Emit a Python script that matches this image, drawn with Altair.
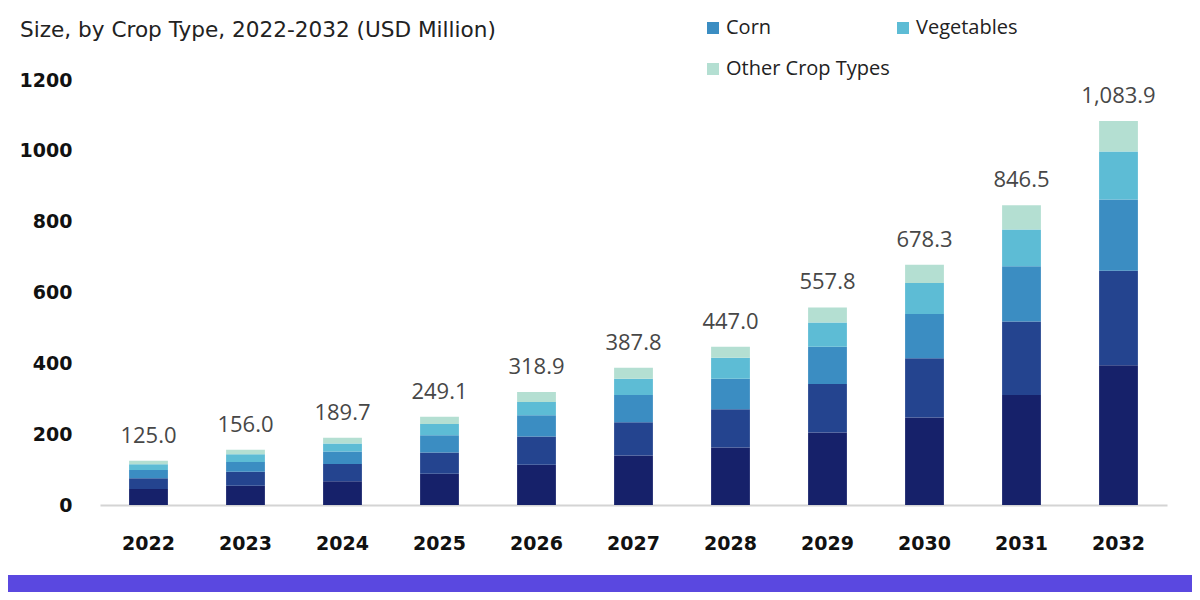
import altair as alt
import pandas as pd

years = ["2022", "2023", "2024", "2025", "2026", "2027", "2028", "2029", "2030", "2031", "2032"]
series = ["Soybean", "Wheat", "Corn", "Vegetables", "Other Crop Types"]
colors = ["#16216a", "#24448f", "#3b8dc2", "#5dbcd5", "#b4dfd2"]

soybean = [45.0, 54.6, 67.3, 88.5, 114.0, 139.7, 162.5, 204.8, 246.9, 310.3, 394.7]
wheat = [30.6, 39.2, 48.2, 59.8, 79.7, 94.1, 108.0, 136.7, 167.5, 207.5, 266.8]
corn = [23.1, 27.8, 35.6, 48.7, 59.5, 77.0, 85.8, 105.4, 124.7, 156.1, 201.1]
vegetables = [16.3, 22.0, 22.2, 31.5, 37.3, 45.6, 59.6, 68.6, 88.0, 104.1, 135.7]
other = [10.0, 12.4, 16.4, 20.6, 28.4, 31.4, 31.1, 42.3, 51.2, 68.5, 85.6]
totals = [125.0, 156.0, 189.7, 249.1, 318.9, 387.8, 447.0, 557.8, 678.3, 846.5, 1083.9]

subtitle = "Size, by Crop Type, 2022-2032 (USD Million)"
y_ticks = [0, 200, 400, 600, 800, 1000, 1200]

rows = []
for idx, (name, vals) in enumerate(zip(series, [soybean, wheat, corn, vegetables, other])):
    for yr, v in zip(years, vals):
        rows.append({"year": yr, "crop": name, "value": v, "idx": idx})
df = pd.DataFrame(rows)
tot_df = pd.DataFrame({"year": years, "total": totals})

FONT = "Open Sans"
BOLD = "DejaVu Sans"

x_enc = alt.X("year:N", sort=years, title=None,
              scale=alt.Scale(paddingInner=0.6, paddingOuter=0.3),
              axis=alt.Axis(labelAngle=0, labelFontSize=19, labelFontWeight="bold",
                            labelColor="#111", labelFont=BOLD, ticks=False, tickSize=0,
                            labelPadding=29, domainColor="#d4d4d4", domainWidth=2,
                            grid=False))

bars = alt.Chart(df).mark_bar().encode(
    x=x_enc,
    y=alt.Y("value:Q", stack="zero", title=None,
            scale=alt.Scale(domain=[0, 1200], nice=False),
            axis=alt.Axis(values=y_ticks, format="d", labelFontSize=19, labelFontWeight="bold",
                          labelColor="#111", labelFont=BOLD, ticks=False, tickSize=0,
                          labelPadding=28, domain=False, grid=False)),
    color=alt.Color("crop:N", sort=series,
                    scale=alt.Scale(domain=series, range=colors),
                    legend=alt.Legend(title=None, orient="none", legendX=603, legendY=-62,
                                      direction="horizontal",
                                      values=["Corn", "Vegetables", "Other Crop Types"],
                                      columns=2, columnPadding=3, rowPadding=21,
                                      symbolType="square", symbolSize=144,
                                      symbolStrokeWidth=0, labelFontSize=20, labelLimit=300,
                                      labelFont=FONT, labelColor="#222", labelOffset=3)),
    order=alt.Order("idx:Q", sort="ascending"),
)

labels = alt.Chart(tot_df).mark_text(baseline="bottom", dy=-13, fontSize=22,
                                     font=FONT, color="#474747").encode(
    x=alt.X("year:N", sort=years),
    y=alt.Y("total:Q"),
    text=alt.Text("total:Q", format=",.1f"),
)

sub = alt.Chart(pd.DataFrame({"t": [subtitle]})).mark_text(
    align="left", baseline="middle", fontSize=21.6, font="DejaVu Sans", color="#222"
).encode(x=alt.value(-80), y=alt.value(-49), text="t:N")

band = alt.Chart(pd.DataFrame({"a": [0]})).mark_rect(color="#5a48e0").encode(
    x=alt.value(-92), x2=alt.value(1092), y=alt.value(495), y2=alt.value(520))

chart = alt.layer(bars, labels, sub, band).properties(
    width=1067, height=425, autosize="none", background="white",
    padding={"left": 92, "top": 72, "right": 25, "bottom": 87},
).configure_view(strokeWidth=0, stroke="transparent")

chart.save("out.html", embed_options={"renderer": "svg", "actions": False})
